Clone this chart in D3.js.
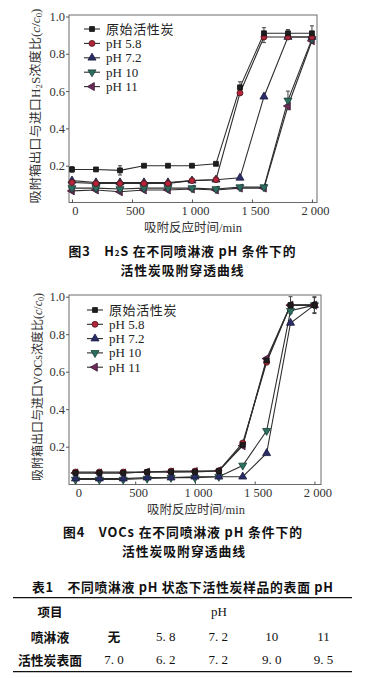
<!DOCTYPE html>
<html><head><meta charset="utf-8">
<script src="https://cdn.jsdelivr.net/npm/d3@7"></script>
<style>body{margin:0;background:#fff}svg{display:block}</style>
</head><body><svg id="c" width="368" height="678"></svg>
<script>
// ---------- data ----------
const times = [0, 200, 400, 600, 800, 1000, 1200, 1400, 1600, 1800, 2000];
const seriesNames = ["原始活性炭", "pH 5.8", "pH 7.2", "pH 10", "pH 11"];
// Fig.3 H2S breakthrough (c/c0)
const h2sRaw  = [0.18, 0.18, 0.175, 0.2, 0.2, 0.2, 0.21, 0.62, 0.91, 0.91, 0.91];
const h2sPH58 = [0.11, 0.105, 0.105, 0.105, 0.105, 0.12, 0.125, 0.59, 0.89, 0.89, 0.89];
const h2sPH72 = [0.12, 0.11, 0.11, 0.11, 0.11, 0.12, 0.125, 0.135, 0.57, 0.89, 0.89];
const h2sPH10 = [0.08, 0.08, 0.075, 0.08, 0.08, 0.08, 0.075, 0.085, 0.085, 0.55, 0.88];
const h2sPH11 = [0.065, 0.07, 0.06, 0.07, 0.07, 0.075, 0.07, 0.08, 0.08, 0.52, 0.87];
const h2sErrRaw  = [0.015, 0, 0.025, 0, 0, 0, 0, 0.03, 0.03, 0.02, 0.04];
const h2sErrPH58 = [0, 0, 0, 0, 0, 0, 0, 0, 0.03, 0, 0];
const h2sErrPH10 = [0, 0, 0, 0, 0, 0, 0, 0, 0, 0.05, 0.02];
// Fig.4 VOCs breakthrough (c/c0)
const vocRaw  = [0.06, 0.06, 0.06, 0.065, 0.065, 0.065, 0.07, 0.21, 0.66, 0.955, 0.955];
const vocPH58 = [0.065, 0.065, 0.065, 0.065, 0.07, 0.07, 0.072, 0.22, 0.65, 0.955, 0.955];
const vocPH72 = [0.03, 0.03, 0.03, 0.035, 0.035, 0.04, 0.04, 0.04, 0.165, 0.86, 0.955];
const vocPH10 = [0.025, 0.025, 0.025, 0.03, 0.035, 0.035, 0.04, 0.10, 0.285, 0.925, 0.955];
const vocPH11 = [0.06, 0.06, 0.06, 0.065, 0.065, 0.068, 0.072, 0.205, 0.67, 0.955, 0.955];
const vocErrPH58 = [0, 0, 0, 0, 0, 0, 0, 0, 0, 0.045, 0.045];
const vocErrPH72 = [0, 0, 0, 0, 0, 0, 0, 0, 0, 0, 0.04];
// ticks
const xTicks = [0, 500, 1000, 1500, 2000];
const xTickLabels = ["0", "500", "1 000", "1 500", "2 000"];
const yTicks = [0.2, 0.4, 0.6, 0.8, 1.0];
// table
const tableHeader = ["项目", "pH"];
const rowLabels = ["喷淋液", "活性炭表面"];
const sprayPH = ["无", "5. 8", "7. 2", "10", "11"];
const surfacePH = ["7. 0", "6. 2", "7. 2", "9. 0", "9. 5"];

// ---------- styles ----------
const serif = "'Liberation Serif','Times New Roman','Noto Sans CJK SC',serif";
const sans = "'Noto Sans CJK SC','Noto Sans',sans-serif";
const colors = ["#1e1e1e", "#b3263a", "#2a2d66", "#2c6e60", "#6a2b58"];
const strokes = ["#111", "#4a1418", "#1a1a40", "#1a3d35", "#3a1530"];
const shapes = [
  {t: d3.symbolSquare, s: 24, r: 0},
  {t: d3.symbolCircle, s: 28, r: 0},
  {t: d3.symbolTriangle, s: 28, r: 0},
  {t: d3.symbolTriangle, s: 28, r: 180},
  {t: d3.symbolTriangle, s: 28, r: -90}
];

const svg = d3.select("#c");

function drawChart(cfg) {
  const x = d3.scaleLinear().domain(cfg.xDomain).range([cfg.left, cfg.right]);
  const y = d3.scaleLinear().domain([0, 1]).range([cfg.y0, cfg.y1]);
  const g = svg.append("g");
  // frame
  g.append("rect").attr("x", cfg.left).attr("y", cfg.top)
    .attr("width", cfg.right - cfg.left).attr("height", cfg.bottom - cfg.top)
    .attr("fill", "none").attr("stroke", "#6a6a6a").attr("stroke-width", 1);
  // x axis
  const xa = g.append("g").attr("transform", `translate(0,${cfg.bottom})`)
    .call(d3.axisBottom(x).tickValues(xTicks).tickSizeInner(-3).tickSizeOuter(0)
      .tickFormat((d, i) => xTickLabels[i]));
  xa.select(".domain").remove();
  xa.selectAll("line").attr("stroke", "#555");
  xa.selectAll("text").attr("font-family", serif).attr("font-size", 12.5)
    .attr("fill", "#333").attr("y", 4).attr("dx", 3);
  // y axis
  const ya = g.append("g").attr("transform", `translate(${cfg.left},0)`)
    .call(d3.axisLeft(y).tickValues(yTicks).tickSizeInner(3).tickSizeOuter(0)
      .tickPadding(1).tickFormat(d3.format(".1f")));
  ya.select(".domain").remove();
  ya.selectAll("line").attr("stroke", "#555");
  ya.selectAll("text").attr("font-family", serif).attr("font-size", 12.5).attr("fill", "#333");
  // axis titles
  g.append("text").attr("x", cfg.xTitleX).attr("y", cfg.xTitleY)
    .attr("text-anchor", "middle").attr("dominant-baseline", "central")
    .attr("font-family", serif).attr("font-size", 12.5).attr("fill", "#333")
    .text("吸附反应时间/min");
  const yt = g.append("text")
    .attr("transform", `translate(${cfg.yTitleX},${cfg.yTitleY}) rotate(-90)`)
    .attr("text-anchor", "middle").attr("dominant-baseline", "central")
    .attr("font-family", serif).attr("font-size", 12).attr("fill", "#333")
    .attr("textLength", cfg.yTitleLen).attr("lengthAdjust", "spacingAndGlyphs");
  cfg.yTitleParts(yt);
  yt.append("tspan").text("浓度比(");
  yt.append("tspan").attr("font-style", "italic").text("c");
  yt.append("tspan").text("/");
  yt.append("tspan").attr("font-style", "italic").text("c");
  yt.append("tspan").attr("font-size", 8).attr("dy", 3).text("0");
  yt.append("tspan").attr("dy", -3).text(")");

  const line = d3.line().x((d, i) => x(times[i])).y(d => y(d));
  cfg.series.slice().reverse().forEach(s => {
    g.append("path").datum(s).attr("d", line).attr("fill", "none")
      .attr("stroke", "#2d2d2d").attr("stroke-width", 1.1);
  });
  // error bars
  cfg.errors.forEach(e => {
    const vals = cfg.series[e.k];
    e.err.forEach((v, i) => {
      if (!v) return;
      const xx = x(times[i]);
      const lo = vals[i] - v, hi = Math.min(vals[i] + v, 1.0);
      g.append("line").attr("x1", xx).attr("x2", xx)
        .attr("y1", y(lo)).attr("y2", y(hi))
        .attr("stroke", "#444").attr("stroke-width", 1);
      [lo, hi].forEach(yy => {
        g.append("line").attr("x1", xx - 2).attr("x2", xx + 2)
          .attr("y1", y(yy)).attr("y2", y(yy)).attr("stroke", "#444");
      });
    });
  });
  // markers
  cfg.series.slice().reverse().forEach((s, ri) => {
    const k = cfg.series.length - 1 - ri;
    const sh = shapes[k];
    g.append("g").selectAll("path").data(s).join("path")
      .attr("d", d3.symbol().type(sh.t).size(sh.s))
      .attr("transform", (d, i) => `translate(${x(times[i])},${y(d)}) rotate(${sh.r})`)
      .attr("fill", colors[k]).attr("stroke", strokes[k]).attr("stroke-width", 0.8);
  });
  // legend
  seriesNames.forEach((n, k) => {
    const ly = cfg.legY + k * cfg.legStep;
    g.append("line").attr("x1", cfg.legX).attr("x2", cfg.legX + 16)
      .attr("y1", ly).attr("y2", ly).attr("stroke", "#2d2d2d").attr("stroke-width", 1.1);
    const sh = shapes[k];
    g.append("path").attr("d", d3.symbol().type(sh.t).size(sh.s))
      .attr("transform", `translate(${cfg.legX + 8},${ly}) rotate(${sh.r})`)
      .attr("fill", colors[k]).attr("stroke", strokes[k]).attr("stroke-width", 0.8);
    g.append("text").attr("x", cfg.legX + 22).attr("y", ly)
      .attr("dominant-baseline", "central").attr("font-family", serif)
      .attr("font-size", 13).attr("fill", "#222").attr("letter-spacing", k === 0 ? 0.6 : 0)
      .text(n);
  });
}

drawChart({
  xDomain: [-25, 2042], left: 69, right: 317, top: 15, bottom: 202.5, y0: 203, y1: 16.5,
  series: [h2sRaw, h2sPH58, h2sPH72, h2sPH10, h2sPH11],
  errors: [{k: 0, err: h2sErrRaw}, {k: 1, err: h2sErrPH58}, {k: 3, err: h2sErrPH10}],
  xTitleX: 193, xTitleY: 227.5, yTitleX: 36, yTitleY: 106, yTitleLen: 195,
  yTitleParts: t => {
    t.append("tspan").text("吸附箱出口与进口H");
    t.append("tspan").attr("font-size", 8).attr("dy", 3).text("2");
    t.append("tspan").attr("dy", -3).text("S");
  },
  legX: 84, legY: 29, legStep: 14.4
});

drawChart({
  xDomain: [-54, 2055], left: 69, right: 321, top: 295, bottom: 484.5, y0: 484.2, y1: 296.7,
  series: [vocRaw, vocPH58, vocPH72, vocPH10, vocPH11],
  errors: [{k: 1, err: vocErrPH58}, {k: 2, err: vocErrPH72}],
  xTitleX: 196, xTitleY: 509.5, yTitleX: 38, yTitleY: 387, yTitleLen: 188,
  yTitleParts: t => { t.append("tspan").text("吸附箱出口与进口VOCs"); },
  legX: 87, legY: 310, legStep: 14.3
});

// ---------- captions ----------
function caption(yPos, cx, len, parts) {
  const t = svg.append("text").attr("x", cx).attr("y", yPos)
    .attr("text-anchor", "middle").attr("dominant-baseline", "central")
    .attr("font-family", sans).attr("font-weight", "bold").attr("font-size", 12.8)
    .attr("fill", "#111");
  if (len) t.attr("textLength", len).attr("lengthAdjust", "spacing");
  parts(t);
  return t;
}
caption(249.5, 182, 227, t => {
  t.append("tspan").text("图3　H");
  t.append("tspan").attr("font-size", 8).attr("dy", 2).text("2");
  t.append("tspan").attr("dy", -2).text("S 在不同喷淋液 pH 条件下的");
});
caption(268.5, 182, 123, t => t.append("tspan").text("活性炭吸附穿透曲线"));
caption(530.7, 182.5, 239, t => t.append("tspan").text("图4　VOCs 在不同喷淋液 pH 条件下的"));
caption(549.5, 183.5, 123, t => t.append("tspan").text("活性炭吸附穿透曲线"));
caption(586, 182.5, 301, t => t.append("tspan").text("表1　不同喷淋液 pH 状态下活性炭样品的表面 pH"));

// ---------- table ----------
svg.append("line").attr("x1", 13).attr("x2", 352).attr("y1", 597.7).attr("y2", 597.7)
  .attr("stroke", "#111").attr("stroke-width", 1.3);
svg.append("line").attr("x1", 13).attr("x2", 352).attr("y1", 671.7).attr("y2", 671.7)
  .attr("stroke", "#111").attr("stroke-width", 1.3);
const colX = [114, 165.7, 218.3, 271.7, 323.5];
const labelX = 50;
svg.append("text").attr("x", labelX).attr("y", 611.7).attr("text-anchor", "middle")
  .attr("dominant-baseline", "central").attr("font-family", sans).attr("font-weight", "bold")
  .attr("font-size", 12.5).attr("fill", "#111").text(tableHeader[0]);
svg.append("text").attr("x", 219).attr("y", 611.7).attr("text-anchor", "middle")
  .attr("dominant-baseline", "central").attr("font-family", serif)
  .attr("font-size", 13).attr("fill", "#111").text(tableHeader[1]);
[sprayPH, surfacePH].forEach((row, r) => {
  const yy = r === 0 ? 636.7 : 659.5;
  svg.append("text").attr("x", labelX).attr("y", yy).attr("text-anchor", "middle")
    .attr("dominant-baseline", "central").attr("font-family", sans).attr("font-weight", "bold")
    .attr("font-size", 12.8).attr("fill", "#111").text(rowLabels[r]);
  row.forEach((v, i) => {
    const isCJK = /[\u4e00-\u9fff]/.test(v);
    svg.append("text").attr("x", colX[i]).attr("y", yy).attr("text-anchor", "middle")
      .attr("dominant-baseline", "central")
      .attr("font-family", isCJK ? sans : serif).attr("font-weight", isCJK ? "bold" : "normal")
      .attr("font-size", isCJK ? 12.5 : 13).attr("fill", "#111").text(v);
  });
});
</script></body></html>
